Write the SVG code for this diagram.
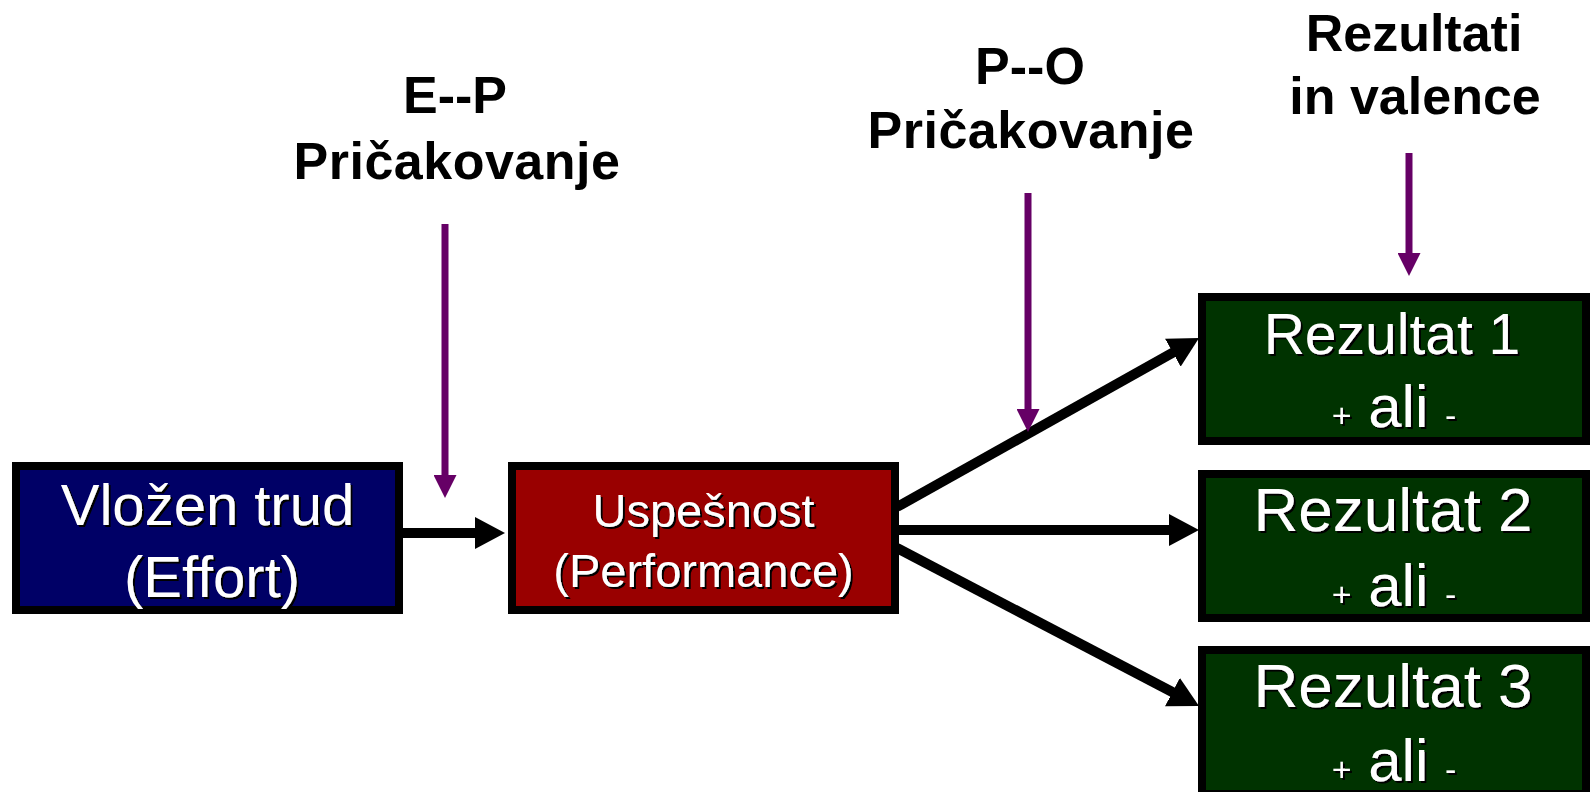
<svg xmlns="http://www.w3.org/2000/svg" width="1593" height="792" viewBox="0 0 1593 792">
<style>
.box{stroke:#000;stroke-width:8}
.bt{font-family:"Liberation Sans",Arial,sans-serif;fill:#fff;text-anchor:middle;filter:url(#sh)}
.tt{font-family:"Liberation Sans",Arial,sans-serif;font-weight:bold;font-size:52px;fill:#000;text-anchor:middle}
.sm{font-size:34px}
.bl{stroke:#000;stroke-width:10;fill:none;marker-end:url(#ah)}
.pu{stroke:#660066;stroke-width:7;fill:none;marker-end:url(#ph)}
</style>
<defs>
<filter id="sh" x="-10%" y="-10%" width="130%" height="140%">
<feDropShadow dx="2" dy="2" stdDeviation="0" flood-color="#000" flood-opacity="1"/>
</filter>
<marker id="ah" markerUnits="userSpaceOnUse" markerWidth="30" markerHeight="32" viewBox="0 0 30 32" refX="2" refY="16" orient="auto">
<path d="M0,0 L30,16 L0,32 z" fill="#000"/>
</marker>
<marker id="ph" markerUnits="userSpaceOnUse" markerWidth="23" markerHeight="23" viewBox="0 0 23 23" refX="1" refY="11.5" orient="auto">
<path d="M0,0 L23,11.5 L0,23 z" fill="#660066"/>
</marker>
</defs>
<rect width="1593" height="792" fill="#fff"/>

<g id="title-ep">
<text class="tt" x="455" y="113">E--P</text>
<text class="tt" x="457" y="179" letter-spacing="0.5">Pričakovanje</text>
</g>
<g id="title-po">
<text class="tt" x="1030" y="84">P--O</text>
<text class="tt" x="1031" y="148" letter-spacing="0.5">Pričakovanje</text>
</g>
<g id="title-rez">
<text class="tt" x="1414" y="51">Rezultati</text>
<text class="tt" x="1415" y="114">in valence</text>
</g>

<g id="effort">
<rect class="box" x="16" y="466" width="383" height="144" fill="#000066"/>
<text class="bt" x="207.5" y="525" font-size="58">Vložen trud</text>
<text class="bt" x="212" y="597" font-size="58">(Effort)</text>
</g>

<g id="performance">
<rect class="box" x="512" y="466" width="383" height="144" fill="#990000"/>
<text class="bt" x="703.5" y="527" font-size="47">Uspešnost</text>
<text class="bt" x="703.5" y="587" font-size="47">(Performance)</text>
</g>

<g id="rezultat1">
<rect class="box" x="1202" y="297" width="384" height="144" fill="#003300"/>
<text class="bt" x="1392" y="354" font-size="57">Rezultat 1</text>
<text class="bt" x="1394" y="427" font-size="60"><tspan class="sm">+</tspan> ali <tspan class="sm">-</tspan></text>
</g>

<g id="rezultat2">
<rect class="box" x="1202" y="474" width="384" height="144" fill="#003300"/>
<text class="bt" x="1393" y="531" font-size="62">Rezultat 2</text>
<text class="bt" x="1394" y="606" font-size="60"><tspan class="sm">+</tspan> ali <tspan class="sm">-</tspan></text>
</g>

<g id="rezultat3">
<rect class="box" x="1202" y="650" width="384" height="144" fill="#003300"/>
<text class="bt" x="1393" y="707" font-size="62">Rezultat 3</text>
<text class="bt" x="1394" y="781" font-size="60"><tspan class="sm">+</tspan> ali <tspan class="sm">-</tspan></text>
</g>

<g id="connectors">
<line class="bl" x1="403" y1="533" x2="477" y2="533"/>
<line class="bl" x1="897" y1="507" x2="1174.6" y2="351.7"/>
<line class="bl" x1="899" y1="530" x2="1171" y2="530"/>
<line class="bl" x1="897" y1="548" x2="1174.2" y2="693"/>
<line class="pu" x1="445" y1="224" x2="445" y2="476"/>
<line class="pu" x1="1028" y1="193" x2="1028" y2="410"/>
<line class="pu" x1="1409" y1="153" x2="1409" y2="254"/>
</g>
</svg>
